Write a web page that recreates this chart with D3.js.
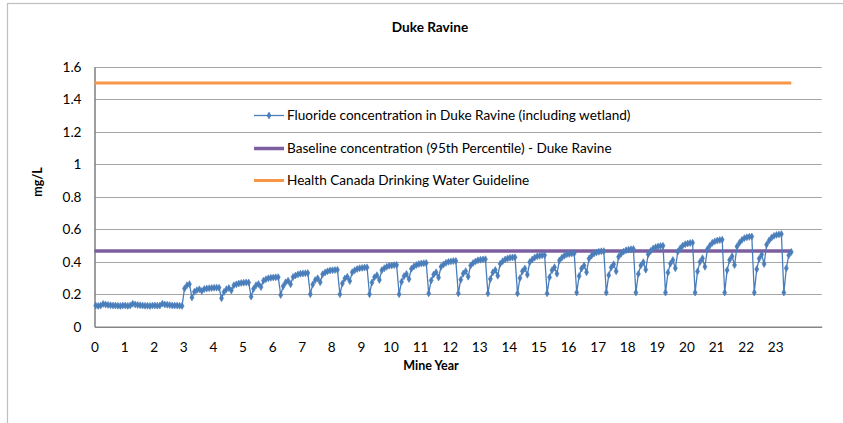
<!DOCTYPE html>
<html><head><meta charset="utf-8">
<script src="https://cdn.jsdelivr.net/npm/d3@7"></script>
<style>
html,body{margin:0;padding:0;background:#fff;}
svg{display:block;font-family:Lato,"Open Sans",sans-serif;}
</style></head>
<body><svg id="chart" width="843" height="423"></svg>
<script>
// ---- data ----
const chartTitle = "Duke Ravine";
const xAxisTitle = "Mine Year";
const yAxisTitle = "mg/L";
const xTickLabels = d3.range(0, 24);            // 0 .. 23
const yTickLabels = [0, 0.2, 0.4, 0.6, 0.8, 1, 1.2, 1.4, 1.6];
const seriesNames = [
  "Fluoride concentration in Duke Ravine (including wetland)",
  "Baseline concentration (95th Percentile) - Duke Ravine",
  "Health Canada Drinking Water Guideline"
];
// monthly fluoride concentration (mg/L), month 0 .. 282
const fluorideYears0to2 = [
  0.13,0.128,0.13,0.14,0.136,0.134,0.132,0.13,0.13,0.129,0.128,0.13,
  0.13,0.128,0.131,0.141,0.137,0.134,0.132,0.13,0.129,0.129,0.128,0.13,
  0.13,0.129,0.13,0.142,0.137,0.135,0.133,0.131,0.13,0.13,0.129,0.128
];
const fluorideYear3Start = [0.235,0.255,0.262];
const fluorideCycles = [
  [0.18,0.215,0.225,0.23,0.22,0.232,0.235,0.237,0.238,0.24,0.24,0.24],
  [0.175,0.214,0.231,0.238,0.223,0.255,0.261,0.266,0.269,0.271,0.272,0.272],
  [0.185,0.233,0.255,0.263,0.244,0.283,0.292,0.298,0.301,0.303,0.304,0.305],
  [0.195,0.249,0.273,0.283,0.261,0.306,0.315,0.322,0.326,0.328,0.329,0.33],
  [0.2,0.26,0.287,0.298,0.274,0.323,0.334,0.341,0.346,0.348,0.349,0.35],
  [0.2,0.266,0.296,0.307,0.281,0.335,0.347,0.355,0.36,0.362,0.364,0.365],
  [0.2,0.272,0.304,0.317,0.288,0.348,0.36,0.369,0.375,0.377,0.379,0.38],
  [0.2,0.277,0.311,0.325,0.294,0.357,0.371,0.38,0.386,0.389,0.391,0.392],
  [0.205,0.285,0.321,0.335,0.303,0.369,0.383,0.393,0.399,0.402,0.404,0.405],
  [0.205,0.289,0.327,0.342,0.308,0.377,0.392,0.402,0.409,0.412,0.414,0.415],
  [0.205,0.294,0.334,0.349,0.314,0.387,0.403,0.414,0.42,0.424,0.426,0.427],
  [0.205,0.299,0.341,0.358,0.32,0.398,0.414,0.426,0.433,0.436,0.439,0.44],
  [0.205,0.304,0.348,0.366,0.326,0.408,0.425,0.437,0.445,0.448,0.451,0.452],
  [0.21,0.312,0.358,0.376,0.335,0.419,0.437,0.45,0.457,0.461,0.464,0.465],
  [0.21,0.317,0.365,0.384,0.341,0.43,0.449,0.462,0.47,0.474,0.477,0.478],
  [0.21,0.325,0.377,0.397,0.351,0.446,0.466,0.481,0.489,0.494,0.497,0.498],
  [0.21,0.333,0.388,0.41,0.36,0.462,0.483,0.499,0.508,0.512,0.515,0.517],
  [0.21,0.34,0.399,0.421,0.369,0.477,0.499,0.516,0.525,0.53,0.533,0.535],
  [0.21,0.348,0.41,0.434,0.379,0.493,0.517,0.534,0.545,0.55,0.553,0.555],
  [0.21,0.354,0.419,0.444,0.386,0.505,0.53,0.548,0.559,0.565,0.568,0.57]
];
const fluorideTail = [0.21,0.36,0.44,0.46];
const baselineValue = 0.466;
const guidelineValue = 1.5;

const fluoride = fluorideYears0to2.concat(fluorideYear3Start, ...fluorideCycles, fluorideTail);
const points = fluoride.map((v, i) => ({x: (i + 0.5) / 12, y: v}));
const xFirst = 0, xLast = points[points.length - 1].x;

// ---- layout ----
const svg = d3.select("#chart");
const blue = "#4A7EBB", purple = "#7D5FA0", orange = "#F79646";
const x = d3.scaleLinear().domain([0, 24.57]).range([94.5, 821.7]);
const y = d3.scaleLinear().domain([0, 1.6]).range([326.7, 66.7]);

// outer chart border
svg.append("rect").attr("x", 7.5).attr("y", 3.5).attr("width", 900).attr("height", 500)
  .attr("fill", "#fff").attr("stroke", "#BFBFBF").attr("stroke-width", 1.2);

// gridlines
svg.append("g").selectAll("line").data(yTickLabels.filter(d => d > 0)).join("line")
  .attr("x1", x(0)).attr("x2", x(24.57))
  .attr("y1", d => Math.round(y(d)) + 0.5).attr("y2", d => Math.round(y(d)) + 0.5)
  .attr("stroke", "#A6A6A6").attr("stroke-width", 1);

// axes
const xAxis = d3.axisBottom(x).tickValues(xTickLabels).tickSize(0).tickPadding(0)
  .tickFormat(d3.format("d"));
const gx = svg.append("g").attr("transform", `translate(0,${y(0)})`).call(xAxis);
gx.select(".domain").attr("stroke", "#868686").attr("stroke-width", 1.6);
gx.selectAll("text").attr("dy", null).attr("y", 25).attr("font-size", 13.6)
  .attr("fill", "#000").attr("font-family", "Lato, sans-serif");

const yAxis = d3.axisLeft(y).tickValues(yTickLabels).tickSize(0).tickPadding(13)
  .tickFormat(d => String(d));
const gy = svg.append("g").attr("transform", `translate(${x(0)},0)`).call(yAxis);
gy.select(".domain").attr("stroke", "#868686").attr("stroke-width", 1.6);
gy.selectAll("text").attr("font-size", 13.6).attr("fill", "#000")
  .attr("font-family", "Lato, sans-serif");

// reference lines
svg.append("line").attr("x1", x(xFirst)).attr("x2", x(xLast))
  .attr("y1", y(guidelineValue)).attr("y2", y(guidelineValue))
  .attr("stroke", orange).attr("stroke-width", 3);
svg.append("line").attr("x1", x(xFirst)).attr("x2", x(xLast))
  .attr("y1", y(baselineValue)).attr("y2", y(baselineValue))
  .attr("stroke", purple).attr("stroke-width", 3.5);

// fluoride series
const line = d3.line().x(d => x(d.x)).y(d => y(d.y));
svg.append("path").datum(points).attr("d", line)
  .attr("fill", "none").attr("stroke", blue).attr("stroke-width", 1.3);
const diamond = d3.symbol().type(d3.symbolDiamond).size(14);
svg.append("g").selectAll("path").data(points).join("path")
  .attr("d", diamond).attr("transform", d => `translate(${x(d.x)},${y(d.y)})`)
  .attr("fill", blue).attr("stroke", blue).attr("stroke-width", 0.6);

// legend
const legendY = [115.5, 148.5, 180.5];
const lg = svg.append("g");
lg.append("line").attr("x1", 254).attr("x2", 284).attr("y1", legendY[0]).attr("y2", legendY[0])
  .attr("stroke", blue).attr("stroke-width", 1.3);
lg.append("path").attr("d", diamond).attr("transform", `translate(269,${legendY[0]})`)
  .attr("fill", blue).attr("stroke", blue).attr("stroke-width", 0.6);
lg.append("line").attr("x1", 254).attr("x2", 284).attr("y1", legendY[1]).attr("y2", legendY[1])
  .attr("stroke", purple).attr("stroke-width", 3.5);
lg.append("line").attr("x1", 254).attr("x2", 284).attr("y1", legendY[2]).attr("y2", legendY[2])
  .attr("stroke", orange).attr("stroke-width", 3);
lg.selectAll("text").data(seriesNames).join("text")
  .attr("x", 287).attr("y", (d, i) => legendY[i]).attr("dy", "0.35em")
  .attr("font-size", 13.6).attr("fill", "#000").text(d => d);

// titles
svg.append("text").attr("x", 430).attr("y", 27).attr("dy", "0.35em").attr("text-anchor", "middle")
  .attr("font-size", 13.6).attr("font-weight", "bold").text(chartTitle);
svg.append("text").attr("x", 431).attr("y", 366).attr("dy", "0.35em").attr("text-anchor", "middle")
  .attr("font-size", 12.5).attr("font-weight", "bold").text(xAxisTitle);
svg.append("text").attr("transform", "translate(38,182) rotate(-90)").attr("dy", "0.35em")
  .attr("text-anchor", "middle").attr("font-size", 12.5).attr("font-weight", "bold").text(yAxisTitle);
</script></body></html>
